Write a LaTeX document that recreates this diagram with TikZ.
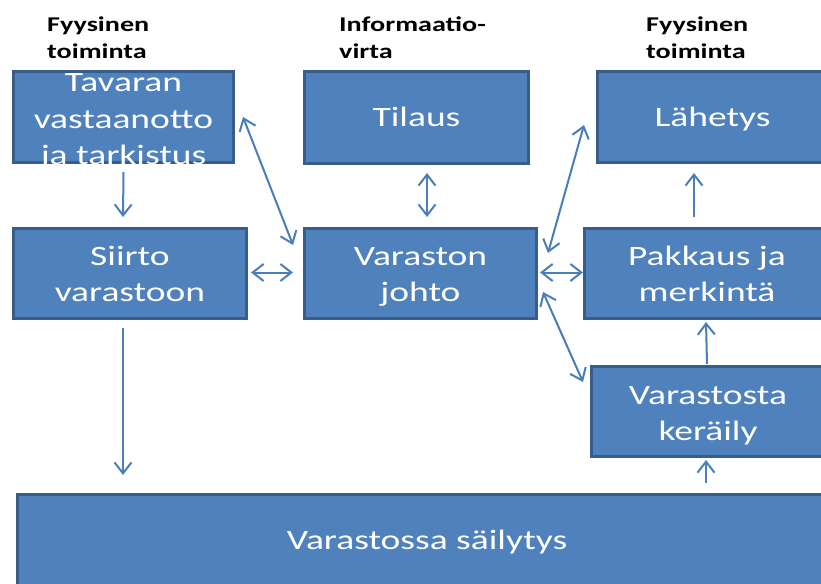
\documentclass[tikz,border=0pt]{standalone}
\usepackage{fontspec}
\setmainfont{Carlito}[FakeStretch=1.34]
\usetikzlibrary{arrows.meta,calc}
\definecolor{boxfill}{HTML}{4F81BD}
\definecolor{boxline}{HTML}{385D8A}
\definecolor{arrcol}{HTML}{4A7EBB}
\begin{document}
\begin{tikzpicture}[x=1pt,y=-1pt,
  box/.style={draw=boxline, line width=3pt, fill=boxfill, text=white, inner sep=0pt,
    font=\fontsize{28}{36.5}\selectfont},
  txt/.style 2 args={text height=#1pt, text depth=#2pt},
  head/.style={anchor=base west, inner sep=0pt, font=\bfseries\fontsize{21}{27}\selectfont},
  tip/.tip={Straight Barb[length=11pt,width=17pt]},
  arr/.style={draw=arrcol, line width=2pt, -tip},
  darr/.style={draw=arrcol, line width=2pt, tip-tip},
]
\useasboundingbox (0,0) rectangle (821,583);

% headers
\node[head] (h1) at (47,32) {\begin{tabular}[t]{@{}l@{}}Fyysinen\\toiminta\end{tabular}};
\node[head] (h2) at (339,32) {\begin{tabular}[t]{@{}l@{}}Informaatio-\\virta\end{tabular}};
\node[head] (h3) at (646,32) {\begin{tabular}[t]{@{}l@{}}Fyysinen\\toiminta\end{tabular}};

% boxes
\node[box, minimum width=220pt, minimum height=91pt, txt={5}{55}] (tav) at (123.5,117)
  {\begin{tabular}[t]{@{}c@{}}Tavaran\\vastaanotto\\ja tarkistus\end{tabular}};
\node[box, minimum width=224pt, minimum height=92pt, txt={38.5}{21.5}] (til) at (416.5,117.5) {Tilaus};
\node[box, minimum width=230pt, minimum height=91pt, txt={40}{20}] (lah) at (712.5,117) {Lähetys};
\node[box, minimum width=233pt, minimum height=90pt, txt={21.5}{38.5}] (sii) at (130,273.5)
  {\begin{tabular}[t]{@{}c@{}}Siirto\\varastoon\end{tabular}};
\node[box, minimum width=232pt, minimum height=90pt, txt={21.5}{38.5}] (var) at (420.5,273.5)
  {\begin{tabular}[t]{@{}c@{}}Varaston\\johto\end{tabular}};
\node[box, minimum width=245pt, minimum height=90pt, txt={21.5}{38.5}] (pak) at (707,273.5)
  {\begin{tabular}[t]{@{}c@{}}Pakkaus ja\\merkintä\end{tabular}};
\node[box, minimum width=233pt, minimum height=90pt, txt={22.5}{37.5}] (ker) at (708,411.5)
  {\begin{tabular}[t]{@{}c@{}}Varastosta\\keräily\end{tabular}};
\node[box, minimum width=819pt, minimum height=104pt, txt={32.5}{27.5}] (sai) at (427,546.5)
  {Varastossa säilytys};

% connectors
\draw[arr] ($(tav.south)+(0,8)$) -- ($(sii.north)+(-7,-10)$);
\draw[arr] ($(sii.south)+(-7,8)$) -- ($(sai.north west)+(107,-18)$);
\draw[darr] ($(tav.east)+(8,0)$) -- ($(var.north west)+(-10,18)$);
\draw[darr] ($(sii.east)+(3,-1)$) -- ($(var.west)+(-10,-1)$);
\draw[darr] ($(til.south)+(10.5,8)$) -- ($(var.north)+(6.5,-10)$);
\draw[darr] ($(var.north east)+(10,26)$) -- ($(lah.west)+(-12,8)$);
\draw[darr] ($(var.east)+(2,-1)$) -- ($(pak.west)+(0,-1)$);
\draw[darr] ($(var.south east)+(5,-28)$) -- ($(ker.north west)+(-7,17)$);
\draw[arr] ($(pak.north)+(-13,-10)$) -- ($(lah.south)+(-18.5,9)$);
\draw[arr] ($(ker.north)+(-1,-1)$) -- ($(pak.south)+(-1,2)$);
\draw[arr] ($(sai.north west)+(690,-10)$) -- ($(ker.south)+(-2,2)$);
\end{tikzpicture}
\end{document}
